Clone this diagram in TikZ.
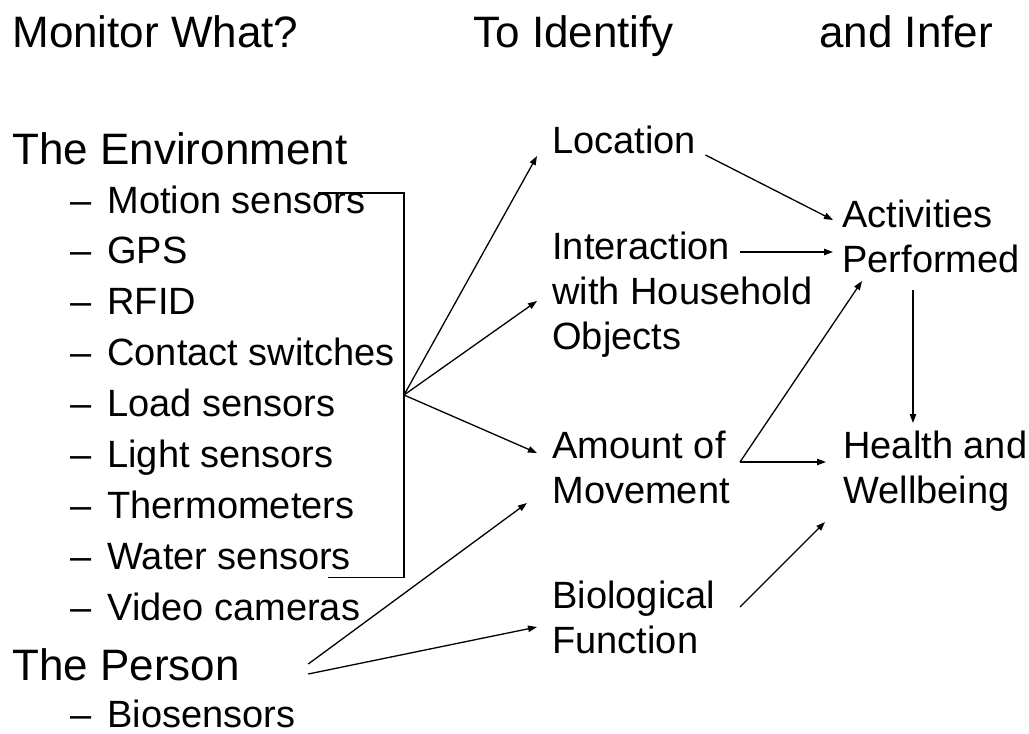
\documentclass[tikz,border=0pt]{standalone}
\usepackage{fontspec}
\setmainfont{Liberation Sans}
\usepackage{tikz}
\usetikzlibrary{arrows.meta}

\newcommand{\dashitem}[1]{\makebox[18.5pt][l]{--}#1}

\begin{document}
\begin{tikzpicture}[x=0.5pt,y=-0.5pt,
    head/.style={font=\fontsize{22}{26}\selectfont,anchor=base west,inner sep=0pt},
    lbl/.style={font=\fontsize{19}{22.5}\selectfont,anchor=base west,inner sep=0pt,align=left},
    arr/.style={-{Triangle[length=4.5pt,width=3.2pt]},line width=0.65pt}]
      \useasboundingbox (0,0) rectangle (1029,734);
      % column titles
      \node[head] (what) at (12,47) {Monitor What?};
      \node[head] (ident) at (473,47) {To Identify};
      \node[head] (infer) at (819,47) {and Infer};
      % what is monitored
      \node[head] (env) at (12,164) {The Environment};
      \foreach \t [count=\i] in {Motion sensors,GPS,RFID,Contact switches,Load sensors,
          Light sensors,Thermometers,Water sensors,Video cameras}
        \node[lbl] (e\i) at (70,{213+50.9*(\i-1)}) {\dashitem{\t}};
      \node[head] (per) at (12,680) {The Person};
      \node[lbl] (bios) at (70,727) {\dashitem{Biosensors}};
      % identify (base = last line)
      \node[lbl] (loc) at (552,153) {Location};
      \node[lbl] (int) at (552,349) {Interaction\\with Household\\Objects};
      \node[lbl] (amt) at (552,503) {Amount of\\Movement};
      \node[lbl] (bio) at (552,653) {Biological\\Function};
      % infer
      \node[lbl] (act) at (842,272) {Activities\\Performed};
      \node[lbl] (hea) at (843,503) {Health and\\Wellbeing};
      % sensor bracket
      \coordinate (hub) at (404,395);
      \draw[line width=0.65pt] ([shift={(248,-20)}]e1.base west) -| (hub)
        |- ([shift={(258,8)}]e8.base west);
      \draw[arr] (hub) -- ([shift={(-15,3)}]loc.base west);
      \draw[arr] (hub) -- ([shift={(-15,-48)}]int.base west);
      \draw[arr] (hub) -- ([shift={(-15,-50)}]amt.base west);
      \draw[arr] ([shift={(68,-16)}]per.base east) -- ([shift={(-25,0)}]amt.base west);
      \draw[arr] ([shift={(68,-6)}]per.base east) -- ([shift={(-15,-26)}]bio.base west);
      % to the last column
      \draw[arr] ([shift={(9,2)}]loc.base east) -- ([shift={(-9,-52)}]act.base west);
      \draw[arr] ([shift={(188,-97)}]int.base west) -- ([shift={(-9,-20)}]act.base west);
      \draw[arr] ([shift={(188,-41)}]amt.base west) -- ([shift={(20,9)}]act.base west);
      \draw[arr] ([shift={(188,-41)}]amt.base west) -- ([shift={(-17,-41)}]hea.base west);
      \draw[arr] ([shift={(71,18)}]act.base west) -- ([shift={(70,-80)}]hea.base west);
      \draw[arr] ([shift={(188,-46)}]bio.base west) -- ([shift={(-18,19)}]hea.base west);
    \end{tikzpicture}
\end{document}
